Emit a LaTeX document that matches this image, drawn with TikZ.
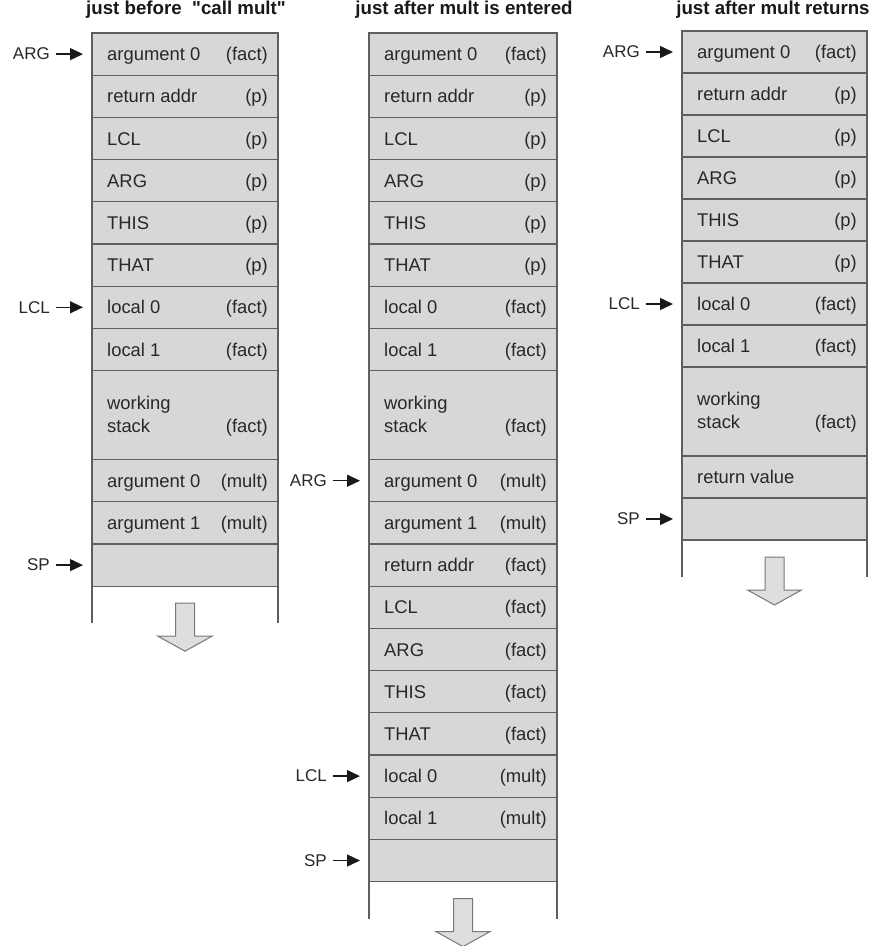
\documentclass[tikz,border=0pt]{standalone}
\usepackage{fontspec}
\setmainfont{Liberation Sans}
\newfontfamily\titlefont{Liberation Sans}
\usetikzlibrary{arrows.meta}
\definecolor{cellfill}{RGB}{215,215,218}
\definecolor{cellline}{RGB}{95,95,95}
\definecolor{txt}{RGB}{40,40,40}
\definecolor{arrfill}{RGB}{222,222,222}
\definecolor{arrline}{RGB}{120,120,120}
\newcommand\rowh{42.2pt}
\newcommand\stackrow[5]{%
  \node[cell, minimum width=#3, anchor=north] (#1) at (#2) {};
  \node[celltxt, anchor=base west] (#1l) at ([xshift=15pt,yshift=-6.5pt]#1.west) {#4};
  \node[celltxt, anchor=base east] (#1r) at ([xshift=-10pt,yshift=-6.5pt]#1.east) {#5};
}
\newcommand\wsrow[4]{%
  \node[cell, minimum width=#3, minimum height=89pt, anchor=north] (#1) at (#2) {};
  \node[celltxt, anchor=base west] (#1a) at ([xshift=15pt,yshift=-38.5pt]#1.north west) {working};
  \node[celltxt, anchor=base west] (#1b) at ([xshift=15pt,yshift=-61.5pt]#1.north west) {stack};
  \node[celltxt, anchor=base east] (#1r) at ([xshift=-10pt,yshift=-61.5pt]#1.north east) {#4};
}
\newcommand\openend[1]{%
  \draw[sideline] (#1.south west) -- ++(0,37);
  \draw[sideline] (#1.south east) -- ++(0,37);
  \coordinate (#1g) at ([yshift=-17pt]#1.south);
  \draw[growarrow] (#1g) ++(-9.5,0) -- ++(19,0) -- ++(0,33) -- ++(17.5,0) -- ++(-27,15) -- ++(-27,-15) -- ++(17.5,0) -- cycle;
}
\newcommand\pointer[3]{%
  \node[ptrtxt, anchor=east] (#1) at ([xshift=-42pt]#2.west) {#3};
  \draw[ptrarrow] (#1) -- (#2);
}
\begin{document}
\begin{tikzpicture}[x=1pt,y=-1pt,
  cell/.style={draw=cellline, fill=cellfill, line width=1.2pt, rectangle,
    inner sep=0pt, outer sep=0pt, minimum height=\rowh},
  celltxt/.style={inner sep=0pt, text=txt, font=\fontsize{18.4}{22}\selectfont},
  ptrtxt/.style={inner sep=0pt, text=txt, font=\fontsize{17}{20}\selectfont},
  ptrarrow/.style={draw=black!90, line width=1.4pt, shorten <=6pt, shorten >=9pt,
    -{Triangle[length=13pt,width=12pt]}},
  title/.style={inner sep=0pt, font=\titlefont\bfseries\fontsize{18.7}{22}\selectfont, text=black!90},
  sideline/.style={draw=cellline, line width=1.2pt},
  growarrow/.style={draw=arrline, fill=arrfill, line width=1pt, line join=miter}
]
\fill[white] (0,0) rectangle (875,946);
\useasboundingbox (0,0) rectangle (875,946);

% titles
\node[title, anchor=base] (t1) at (186,14) {just before\ \ "call mult"};
\node[title, anchor=base] (t2) at (464,14) {just after mult is entered};
\node[title, anchor=base] (t3) at (773,14) {just after mult returns};

% left column
\stackrow{L1}{185,33}{186pt}{argument 0}{(fact)}
\stackrow{L2}{L1.south}{186pt}{return addr}{(p)}
\stackrow{L3}{L2.south}{186pt}{LCL}{(p)}
\stackrow{L4}{L3.south}{186pt}{ARG}{(p)}
\stackrow{L5}{L4.south}{186pt}{THIS}{(p)}
\stackrow{L6}{L5.south}{186pt}{THAT}{(p)}
\stackrow{L7}{L6.south}{186pt}{local 0}{(fact)}
\stackrow{L8}{L7.south}{186pt}{local 1}{(fact)}
\wsrow{Lws}{L8.south}{186pt}{(fact)}
\stackrow{L9}{Lws.south}{186pt}{argument 0}{(mult)}
\stackrow{L10}{L9.south}{186pt}{argument 1}{(mult)}
\stackrow{Lsp}{L10.south}{186pt}{}{}
\openend{Lsp}
\pointer{pLa}{L1}{ARG}
\pointer{pLl}{L7}{LCL}
\pointer{pLs}{Lsp}{SP}

% middle column
\stackrow{M1}{463,33}{188pt}{argument 0}{(fact)}
\stackrow{M2}{M1.south}{188pt}{return addr}{(p)}
\stackrow{M3}{M2.south}{188pt}{LCL}{(p)}
\stackrow{M4}{M3.south}{188pt}{ARG}{(p)}
\stackrow{M5}{M4.south}{188pt}{THIS}{(p)}
\stackrow{M6}{M5.south}{188pt}{THAT}{(p)}
\stackrow{M7}{M6.south}{188pt}{local 0}{(fact)}
\stackrow{M8}{M7.south}{188pt}{local 1}{(fact)}
\wsrow{Mws}{M8.south}{188pt}{(fact)}
\stackrow{M9}{Mws.south}{188pt}{argument 0}{(mult)}
\stackrow{M10}{M9.south}{188pt}{argument 1}{(mult)}
\stackrow{M11}{M10.south}{188pt}{return addr}{(fact)}
\stackrow{M12}{M11.south}{188pt}{LCL}{(fact)}
\stackrow{M13}{M12.south}{188pt}{ARG}{(fact)}
\stackrow{M14}{M13.south}{188pt}{THIS}{(fact)}
\stackrow{M15}{M14.south}{188pt}{THAT}{(fact)}
\stackrow{M16}{M15.south}{188pt}{local 0}{(mult)}
\stackrow{M17}{M16.south}{188pt}{local 1}{(mult)}
\stackrow{Msp}{M17.south}{188pt}{}{}
\openend{Msp}
\pointer{pMa}{M9}{ARG}
\pointer{pMl}{M16}{LCL}
\pointer{pMs}{Msp}{SP}

% right column
\renewcommand\rowh{42pt}
\stackrow{R1}{774.5,31}{185pt}{argument 0}{(fact)}
\stackrow{R2}{R1.south}{185pt}{return addr}{(p)}
\stackrow{R3}{R2.south}{185pt}{LCL}{(p)}
\stackrow{R4}{R3.south}{185pt}{ARG}{(p)}
\stackrow{R5}{R4.south}{185pt}{THIS}{(p)}
\stackrow{R6}{R5.south}{185pt}{THAT}{(p)}
\stackrow{R7}{R6.south}{185pt}{local 0}{(fact)}
\stackrow{R8}{R7.south}{185pt}{local 1}{(fact)}
\wsrow{Rws}{R8.south}{185pt}{(fact)}
\stackrow{R9}{Rws.south}{185pt}{return value}{}
\stackrow{Rsp}{R9.south}{185pt}{}{}
\openend{Rsp}
\pointer{pRa}{R1}{ARG}
\pointer{pRl}{R7}{LCL}
\pointer{pRs}{Rsp}{SP}
\end{tikzpicture}
\end{document}
